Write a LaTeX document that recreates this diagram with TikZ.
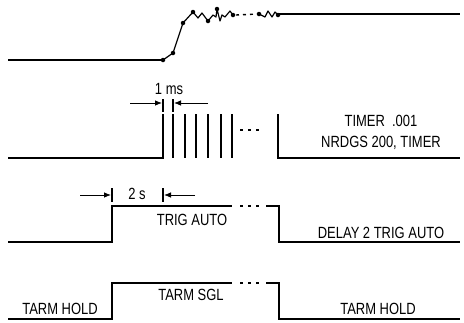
\documentclass[tikz,border=0pt]{standalone}
\usepackage{fontspec}
\setmainfont{Liberation Sans}
\usetikzlibrary{arrows.meta}
\tikzset{
  wave/.style={line width=1.9pt,line join=miter},
  thin wave/.style={line width=1.2pt,line join=round},
  bar/.style={line width=1.6pt},
  dim/.style={line width=0.8pt,-{Latex[length=7pt,width=5.5pt]}},
  dots/.style={line width=2pt,dash pattern=on 3pt off 5pt},
  lab/.style={inner sep=0pt,anchor=center,font=\fontsize{16.2}{18}\selectfont},
  pt/.style={circle,fill=black,inner sep=0pt,minimum size=4.5pt}
}
\newcommand{\nar}[1]{\scalebox{0.8}[1]{#1}}
\begin{document}
\begin{tikzpicture}[x=1pt,y=-1pt]
\useasboundingbox (0,0) rectangle (464,322);
% top trace
\draw[wave] (8,60) -- (163,60);
\draw[thin wave] (163,60) -- (173,53) -- (183,23) -- (193,12) -- (198,18) -- (202,13) -- (208,21) -- (213,15) -- (216,17) -- (217,9) -- (220,21) -- (222,15) -- (225,17) -- (230,11) -- (233,15);
\draw[dots,line width=1.4pt,dash pattern=on 3pt off 4pt] (236,15) -- (258,14);
\draw[thin wave] (259,14) -- (265,17) -- (268,11) -- (272,17) -- (275,12) -- (278,15);
\draw[wave] (278,14) -- (460,14);
\foreach \p in {(163,60),(173,53),(183,23),(193,12),(208,21),(217,9),(233,15),(259,14),(278,15)} \node[pt] at \p {};
% pulse train
\draw[wave] (8,158) -- (163,158) -- (163,114);
\foreach \x in {173,185,196,208,221,232} \draw[wave] (\x,114) -- (\x,158);
\draw[dots] (240,130) -- (261,130);
\draw[wave] (278,114) -- (278,158) -- (460,158);
\draw[bar] (163,99) -- (163,112);
\draw[bar] (173,99) -- (173,112);
\draw[dim] (130,103) -- (162,103);
\draw[dim] (208,103) -- (174,103);
\node[lab] (onems) at (169,89) {\nar{1 ms}};
\node[lab] (timer) at (381,121) {\nar{TIMER\ \ .001}};
\node[lab] (nrdgs) at (381,143) {\nar{NRDGS 200, TIMER}};
% trig auto
\draw[wave] (8,242) -- (112,242) -- (112,206) -- (232,206);
\draw[dots] (240,206) -- (262,206);
\draw[wave] (266,206) -- (279,206) -- (279,242) -- (460,242);
\draw[bar] (112,188) -- (112,202);
\draw[bar] (163,188) -- (163,202);
\draw[dim] (80,195) -- (111,195);
\draw[dim] (195,195) -- (164,195);
\node[lab] (twos) at (137,194) {\nar{2 s}};
\node[lab] (trigauto) at (192,220) {\nar{TRIG AUTO}};
\node[lab] (delay) at (381,233) {\nar{DELAY 2 TRIG AUTO}};
% tarm
\draw[wave] (8,319) -- (112,319) -- (112,283) -- (232,283);
\draw[dots] (240,283) -- (262,283);
\draw[wave] (266,283) -- (279,283) -- (279,319) -- (460,319);
\node[lab] (tarmsgl) at (191,295) {\nar{TARM SGL}};
\node[lab] (tarmholdl) at (60,309) {\nar{TARM HOLD}};
\node[lab] (tarmholdr) at (378,309) {\nar{TARM HOLD}};
\end{tikzpicture}
\end{document}
